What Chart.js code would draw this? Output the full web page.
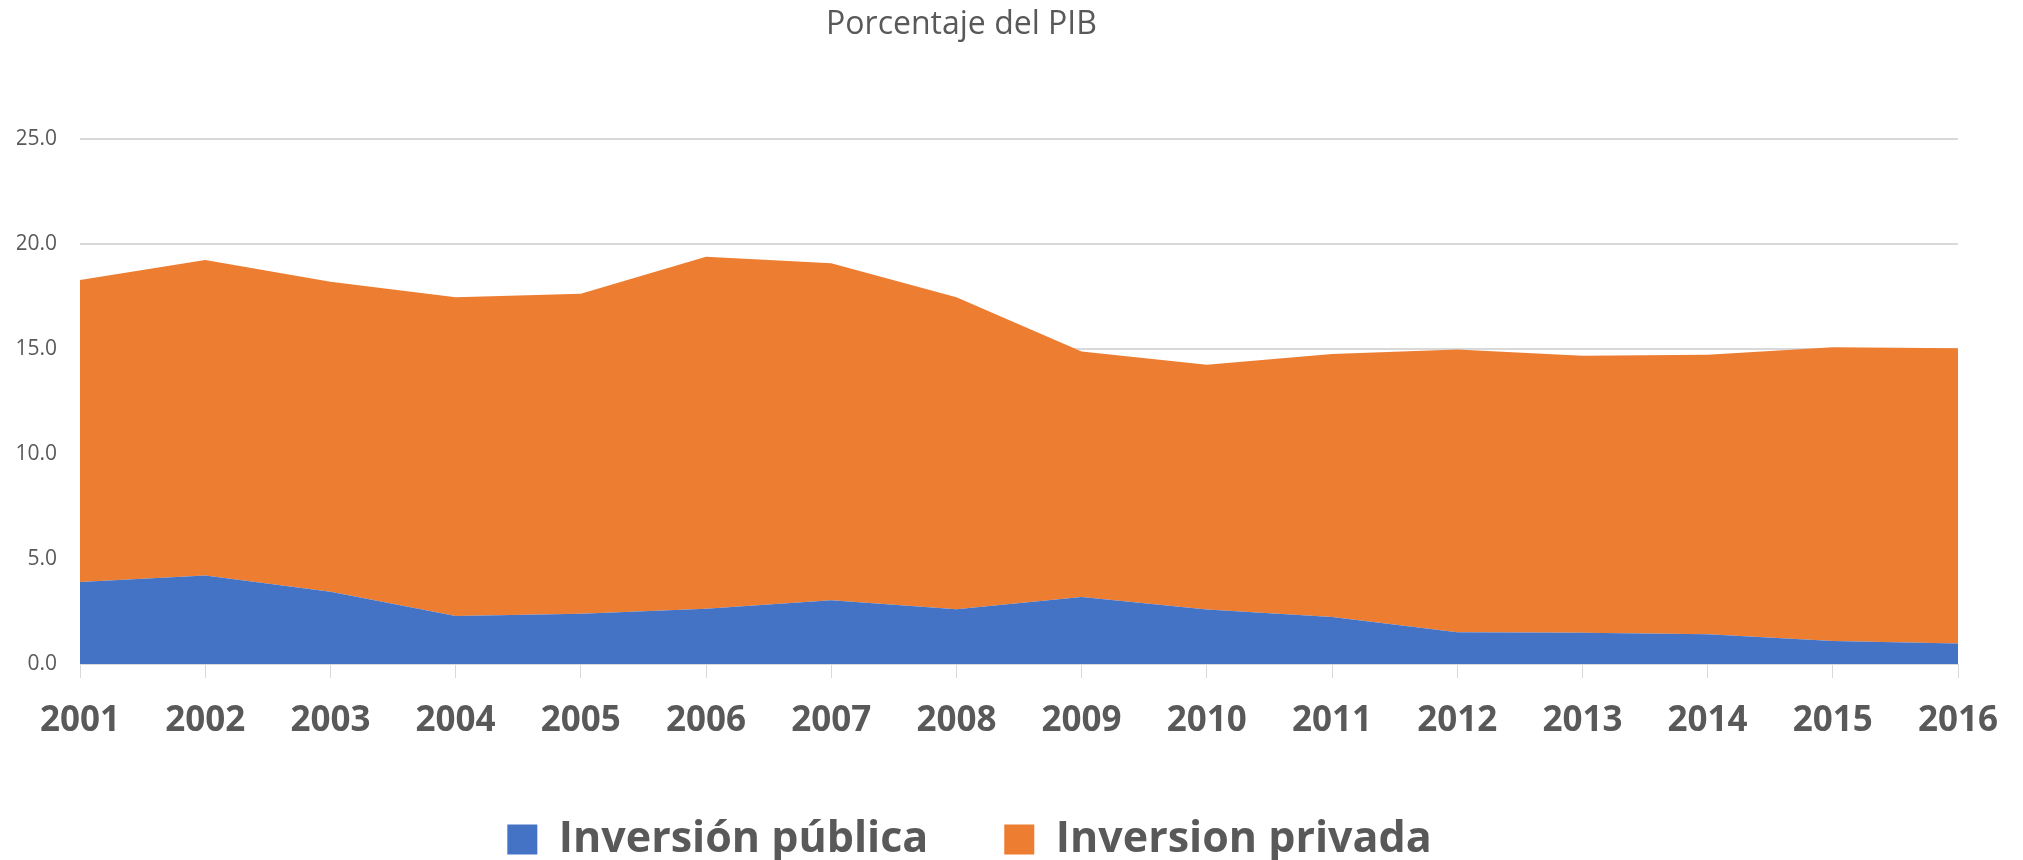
<!DOCTYPE html>
<html>
<head>
<meta charset="utf-8">
<script src="https://cdn.jsdelivr.net/npm/chart.js@4.4.1/dist/chart.umd.min.js"></script>
<style>
  html, body { margin: 0; padding: 0; background: #ffffff; }
  #chart { display: block; }
</style>
</head>
<body>
<canvas id="chart" width="2023" height="860"></canvas>
<script>
// values (percent of GDP)
const years = ['2001', '2002', '2003', '2004', '2005', '2006', '2007', '2008',
               '2009', '2010', '2011', '2012', '2013', '2014', '2015', '2016'];
const inversionPublica = [3.90, 4.22, 3.44, 2.29, 2.39, 2.63, 3.03, 2.61,
                          3.19, 2.59, 2.24, 1.51, 1.49, 1.42, 1.10, 0.98];
const inversionPrivada = [14.39, 15.02, 14.76, 15.17, 15.24, 16.76, 16.05, 14.85,
                          11.69, 11.66, 12.52, 13.47, 13.19, 13.31, 13.98, 14.05];
const yTicks = [0, 5, 10, 15, 20, 25];

const gray = '#595959';
const gridColor = '#d9d9d9';

// Excel centres title and legend on a slightly narrower box than the plot
const shiftBlocks = {
    id: 'shiftBlocks',
    afterLayout(chart) {
        chart.titleBlock.right -= 52;
        chart.legend.right -= 36;
        chart.legend.top += 11;
        chart.legend.bottom += 11;
    }
};

const ctx = document.getElementById('chart').getContext('2d');
new Chart(ctx, {
    type: 'line',
    data: {
        labels: years,
        datasets: [
            {
                label: 'Inversión pública',
                data: inversionPublica,
                backgroundColor: '#4472c4',
                borderColor: '#4472c4',
                borderWidth: 0,
                pointRadius: 0,
                fill: 'origin'
            },
            {
                label: 'Inversion privada',
                data: inversionPrivada,
                backgroundColor: '#ed7d31',
                borderColor: '#ed7d31',
                borderWidth: 0,
                pointRadius: 0,
                fill: '-1'
            }
        ]
    },
    options: {
        responsive: false,
        animation: false,
        layout: {
            padding: { left: 17, right: 65, top: 0, bottom: 0 }
        },
        plugins: {
            title: {
                display: true,
                text: 'Porcentaje del PIB',
                color: gray,
                font: { family: 'Open Sans', size: 32, weight: 'normal' },
                padding: { top: 5.5, bottom: 95.1 }
            },
            legend: {
                position: 'bottom',
                labels: {
                    color: gray,
                    boxWidth: 30,
                    boxHeight: 30,
                    padding: 76,
                    font: { family: 'Open Sans', size: 43, weight: 'bold' }
                }
            },
            tooltip: { enabled: false }
        },
        scales: {
            x: {
                afterFit: (scale) => { scale.height = 67; },
                grid: {
                    drawOnChartArea: false,
                    drawTicks: true,
                    tickLength: 14,
                    color: gridColor
                },
                border: { display: true, color: gridColor },
                ticks: {
                    color: gray,
                    padding: 22,
                    maxRotation: 0,
                    autoSkip: false,
                    font: { family: 'Open Sans', size: 35, weight: 'bold' }
                }
            },
            y: {
                stacked: true,
                min: yTicks[0],
                max: yTicks[yTicks.length - 1],
                afterFit: (scale) => { scale.width = 63; },
                grid: { color: gridColor, lineWidth: 2, drawTicks: false },
                border: { display: false },
                afterBuildTicks: (scale) => {
                    scale.ticks = yTicks.map(v => ({ value: v }));
                },
                ticks: {
                    color: gray,
                    padding: 23,
                    font: { family: 'Open Sans', size: 21 },
                    callback: (v) => Number(v).toFixed(1)
                }
            }
        }
    },
    plugins: [shiftBlocks]
});
</script>
</body>
</html>
